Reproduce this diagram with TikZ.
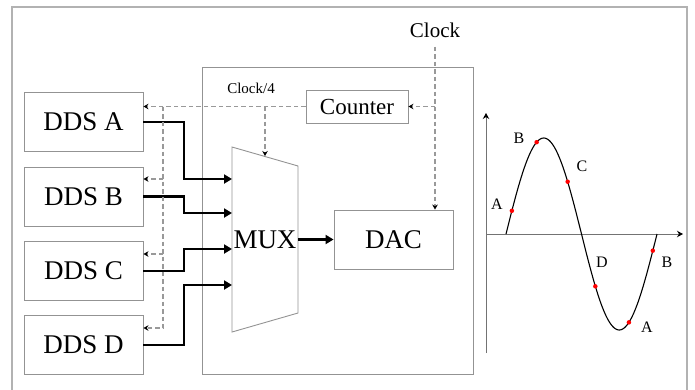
\documentclass[tikz,border=0pt]{standalone}
\usepackage{fontspec}
\setmainfont{Liberation Serif}
\usetikzlibrary{arrows.meta, calc, positioning}

\begin{document}
\begin{tikzpicture}[x=1pt, y=-1pt,
    block/.style={draw=gray!85, line width=0.9pt, inner sep=0pt},
    ddsbox/.style={block, minimum width=119pt, minimum height=59pt, font=\fontsize{27}{27}\selectfont},
    bus/.style={line width=2.4pt, -{Triangle[length=8pt, width=9pt]}},
    clk/.style={gray!80, line width=1.1pt, dash pattern=on 4.5pt off 3pt, -{Stealth[black, length=5pt, width=5.5pt]}},
    lbl/.style={font=\fontsize{16}{16}\selectfont, inner sep=0pt},
    dot/.style={circle, fill=red, inner sep=0pt, minimum size=4.5pt}]

  \useasboundingbox (0,0) rectangle (695,389);

  % frames
  \draw[gray!60, line width=1.2pt] (12,395) -- (12,7) -- (687,7) -- (687,395);
  \draw[gray!85, line width=0.9pt] (202,67) rectangle (473,374);

  % sources
  \foreach \n/\y in {A/122, B/196.5, C/271, D/345}
    \node[ddsbox] (dds\n) at (83.5,\y) {DDS \n};

  \node[block, minimum width=102pt, minimum height=33pt, font=\fontsize{23}{23}\selectfont] (counter) at (357,106.5) {Counter};
  \node[block, minimum width=119pt, minimum height=59pt, font=\fontsize{27}{27}\selectfont] (dac) at (393.5,239.5) {DAC};
  \node[font=\fontsize{21}{21}\selectfont, inner sep=0pt] (clock) at (435,30) {Clock};
  \node[font=\fontsize{15}{15}\selectfont, inner sep=0pt] (clkdiv) at (251,88) {Clock/4};

  % mux
  \coordinate (muxTL) at (232,147);
  \coordinate (muxTR) at (298,166);
  \coordinate (muxBR) at (298,313);
  \coordinate (muxBL) at (232,332);
  \draw[gray!85, line width=0.9pt] (muxTL) -- (muxTR) -- (muxBR) -- (muxBL) -- cycle;
  \node[font=\fontsize{27}{27}\selectfont, inner sep=0pt] (mux) at (265,240) {MUX};

  % data paths
  \foreach \n/\y in {A/179, B/213, C/249, D/285}
    \draw[bus] (dds\n.east) -| (184,\y) -- (muxTL |- 0,\y);
  \draw[bus] (muxTR |- dac.west) -- (dac.west);

  % clock lines
  \coordinate (tap) at (163,106.5);
  \coordinate (sel) at (265,156);
  \draw[clk] (counter.west) -- (counter.west -| ddsA.east);
  \draw[clk] (tap) |- ([yshift=17pt]ddsD.east);
  \foreach \n/\y in {B/179, C/254}
    \draw[clk] (tap |- 0,\y) -- (dds\n.east |- 0,\y);
  \draw[clk] (sel |- counter.west) -- (sel);
  \draw[clk] ([yshift=-9pt]clock.south) -- (clock.south |- dac.north);
  \draw[clk] (clock.south |- counter.east) -- (counter.east);

  % waveform
  \coordinate (origin) at (486,234);
  \draw[gray!90!black, line width=1pt, -{Stealth[black, length=6pt, width=6.5pt]}] (486,353) -- (486,113);
  \draw[gray!90!black, line width=1pt, -{Stealth[black, length=6pt, width=6.5pt]}] (origin) -- (683,234);
  \draw[line width=1.1pt] plot[domain=0:360, samples=120] ({506+\x/360*151}, {234-96*sin(\x)});
  \foreach \a/\t/\lx/\ly [count=\i] in {14/A/497/204, 73/B/519/138, 147/C/582/166, 213/D/602/262, 293/A/647/327, 350/B/667/262} {
      \node[dot] (p\i) at ({506+\a/360*151}, {234-96*sin(\a)}) {};
      \node[lbl] (l\i) at (\lx,\ly) {\t};
    }
\end{tikzpicture}
\end{document}
